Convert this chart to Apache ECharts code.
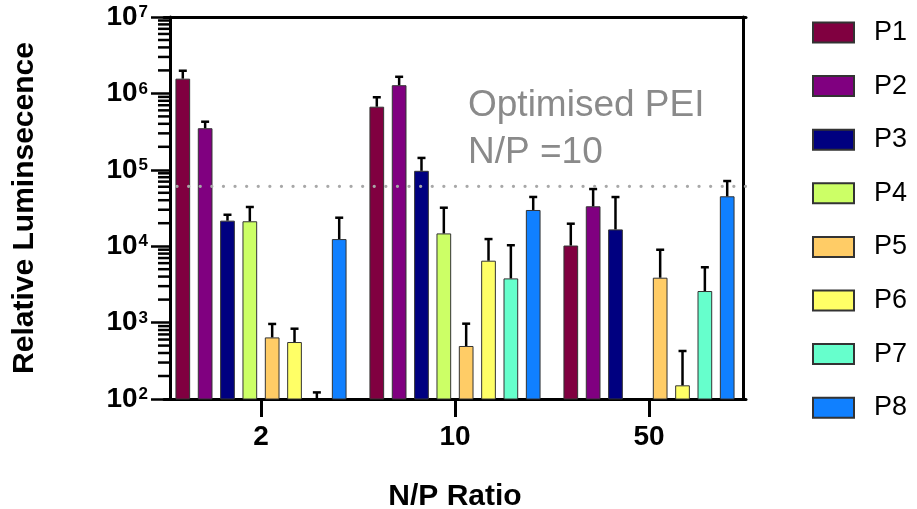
<!DOCTYPE html>
<html>
<head>
<meta charset="utf-8">
<script src="https://cdn.jsdelivr.net/npm/echarts@6/dist/echarts.min.js"></script>
<style>
html,body{margin:0;padding:0;background:#fff;}
#chart{width:917px;height:509px;}
</style>
</head>
<body>
<div id="chart"></div>
<script>
// ---- data ----
const categories = ['2', '10', '50'];
const seriesNames = ['P1', 'P2', 'P3', 'P4', 'P5', 'P6', 'P7', 'P8'];
const seriesColors = ['#800040', '#800080', '#000080', '#ccff66', '#ffcc66', '#ffff66', '#66ffcc', '#1080ff'];
// mean values per N/P ratio
const P1 = [1560000, 670000, 10200];
const P2 = [350000, 1280000, 33300];
const P3 = [21600, 97000, 16600];
const P4 = [21200, 14700, null];
const P5 = [640, 494, 3870];
const P6 = [557, 6460, 151];
const P7 = [100, 3790, 2590];
const P8 = [12400, 29800, 45000];
// upper error (SD) per N/P ratio
const P1_sd = [420000, 220000, 9500];
const P2_sd = [76000, 370000, 22700];
const P3_sd = [4200, 46000, 27400];
const P4_sd = [11400, 17200, null];
const P5_sd = [320, 474, 5120];
const P6_sd = [275, 5940, 274];
const P7_sd = [22, 6510, 2710];
const P8_sd = [11200, 14300, 26300];
const referenceValue = 60800; // Optimised PEI N/P = 10
const yTickExponents = [2, 3, 4, 5, 6, 7];

const means = [P1, P2, P3, P4, P5, P6, P7, P8];
const sds = [P1_sd, P2_sd, P3_sd, P4_sd, P5_sd, P6_sd, P7_sd, P8_sd];

const FONT = 'Liberation Sans, Arial, sans-serif';
const BAR_W = 14.7;
const BAR_GAP = 0.52;
const STEP = BAR_W * (1 + BAR_GAP);
const AXIS_OFF = 6;

// minor log ticks 2..9 per decade
const minorTicks = [];
for (let k = 2; k < 7; k++) for (let m = 2; m <= 9; m++) minorTicks.push([0, m * Math.pow(10, k)]);

const series = [];
seriesNames.forEach((name, i) => {
  series.push({
    name: name,
    type: 'bar',
    barWidth: BAR_W,
    barGap: (BAR_GAP * 100) + '%',
    data: means[i],
    itemStyle: { color: seriesColors[i], borderColor: '#333', borderWidth: 1 },
    emphasis: { disabled: true },
    z: 2
  });
});
seriesNames.forEach((name, i) => {
  const data = [];
  means[i].forEach((v, c) => {
    if (v != null && sds[i][c] != null) data.push([c, v, v + sds[i][c]]);
  });
  series.push({
    name: name + ' err',
    type: 'custom',
    z: 3,
    silent: true,
    data: data,
    renderItem: function (params, api) {
      const base = api.coord([api.value(0), api.value(1)]);
      const top = api.coord([api.value(0), api.value(2)]);
      const x = base[0] + (i - 3.5) * STEP;
      const hw = 4;
      return {
        type: 'group',
        children: [
          { type: 'line', shape: { x1: x, y1: base[1], x2: x, y2: top[1] }, style: { stroke: '#000', lineWidth: 2.5 } },
          { type: 'line', shape: { x1: x - hw, y1: top[1], x2: x + hw, y2: top[1] }, style: { stroke: '#000', lineWidth: 2.5 } }
        ]
      };
    }
  });
});
// reference dotted line
series.push({
  name: 'ref',
  type: 'custom',
  z: 4,
  silent: true,
  data: [[0, referenceValue]],
  renderItem: function (params, api) {
    const p = api.coord([0, api.value(1)]);
    const cs = params.coordSys;
    return {
      type: 'line',
      shape: { x1: cs.x + 13, y1: p[1], x2: cs.x + cs.width + 11, y2: p[1] },
      style: { stroke: '#a8a8a8', lineWidth: 3.2, lineDash: [0.1, 11.5], lineCap: 'round' }
    };
  }
});
// minor ticks on log axis
series.push({
  name: 'minor',
  type: 'custom',
  z: 5,
  silent: true,
  data: minorTicks,
  renderItem: function (params, api) {
    const p = api.coord([0, api.value(1)]);
    const x0 = params.coordSys.x + AXIS_OFF;
    return {
      type: 'line',
      shape: { x1: x0 - 12, y1: p[1], x2: x0, y2: p[1] },
      style: { stroke: '#000', lineWidth: 2.5 }
    };
  }
});

const chart = echarts.init(document.getElementById('chart'), null, { renderer: 'canvas' });
chart.setOption({
  animation: false,
  backgroundColor: '#fff',
  grid: { left: 164, right: 171, top: 17, bottom: 110, containLabel: false, outerBoundsMode: 'none' },
  legend: {
    data: seriesNames,
    orient: 'vertical',
    left: 812,
    top: 19,
    padding: 0,
    itemWidth: 41,
    itemHeight: 20,
    itemGap: 26.6,
    icon: 'rect',
    selectedMode: false,
    textStyle: { fontSize: 27, lineHeight: 27, color: '#000', fontFamily: FONT, padding: [0, 0, 0, 15] }
  },
  xAxis: [{
    type: 'category',
    data: categories,
    position: 'bottom',
    axisLine: { lineStyle: { color: '#000', width: 3 } },
    axisTick: { show: true, alignWithLabel: true, interval: 0, length: 18, lineStyle: { color: '#000', width: 3 } },
    axisLabel: { margin: 24, fontSize: 28, fontWeight: 'bold', color: '#000', fontFamily: FONT },
    name: 'N/P Ratio',
    nameLocation: 'middle',
    nameGap: 83,
    nameTextStyle: { fontSize: 30, fontWeight: 'bold', color: '#000', fontFamily: FONT }
  }, {
    type: 'category',
    data: categories,
    position: 'top',
    axisLine: { lineStyle: { color: '#000', width: 3 } },
    axisTick: { show: false },
    axisLabel: { show: false }
  }],
  yAxis: [{
    type: 'log',
    logBase: 10,
    min: 100,
    max: 10000000,
    offset: -AXIS_OFF,
    splitLine: { show: false },
    axisLine: { show: true, lineStyle: { color: '#000', width: 3 } },
    axisTick: { show: true, length: 19, lineStyle: { color: '#000', width: 2.5 } },
    axisLabel: {
      margin: 22,
      formatter: function (v) {
        const e = Math.round(Math.log10(v));
        return '{b|10}{s|' + (yTickExponents.indexOf(e) >= 0 ? String(e) : '') + '}';
      },
      rich: {
        b: { fontSize: 28, fontWeight: 'bold', color: '#000', fontFamily: FONT, lineHeight: 28 },
        s: { fontSize: 17, fontWeight: 'bold', color: '#000', fontFamily: FONT, lineHeight: 17, verticalAlign: 'top', padding: [1, 0, 0, 1] }
      }
    },
    name: 'Relative Luminsecence',
    nameLocation: 'middle',
    nameGap: 130,
    nameTextStyle: { fontSize: 30, fontWeight: 'bold', color: '#000', fontFamily: FONT }
  }, {
    type: 'log',
    min: 100,
    max: 10000000,
    position: 'right',
    offset: -3,
    splitLine: { show: false },
    axisLine: { show: true, lineStyle: { color: '#000', width: 3 } },
    axisTick: { show: false },
    axisLabel: { show: false }
  }],
  graphic: [{
    type: 'text',
    left: 468,
    top: 82,
    silent: true,
    style: {
      text: 'Optimised PEI\nN/P =10',
      fill: '#8a8a8a',
      font: '37px ' + FONT,
      lineHeight: 47
    }
  }],
  series: series
});
</script>
</body>
</html>
